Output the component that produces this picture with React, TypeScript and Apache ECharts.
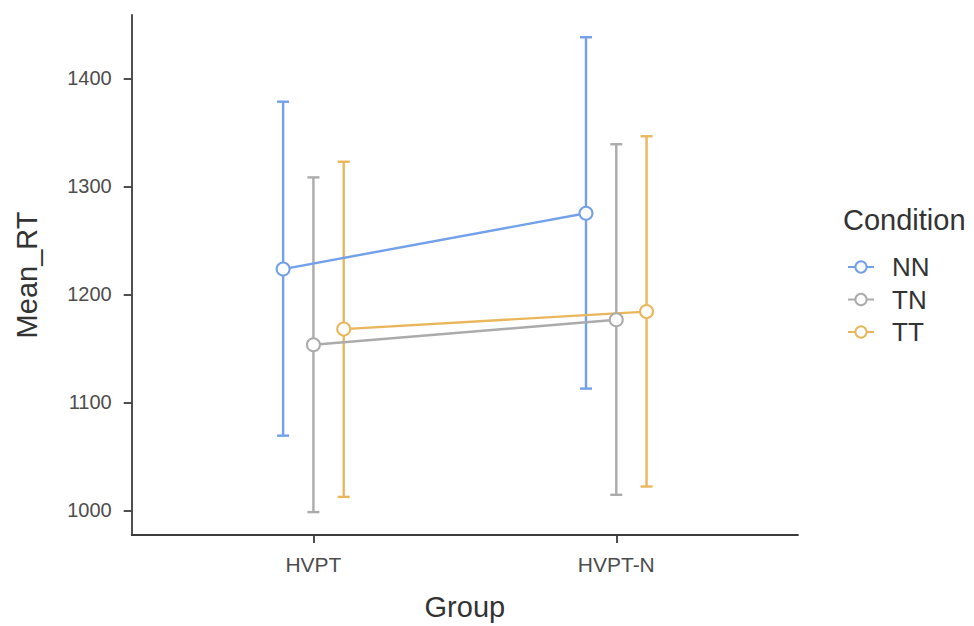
import React, { useEffect, useRef } from "react";
import * as echarts from "echarts";

const groups = ["HVPT", "HVPT-N"];
const conditions = ["NN", "TN", "TT"];
const colors = ["#72A0EA", "#ABABAB", "#EAB65C"];
const dodge = [-0.1, 0, 0.1];
const meanNN = [1223.5, 1275.2];
const meanTN = [1153.4, 1176.5];
const meanTT = [1167.9, 1184.1];
const lowNN = [1069.2, 1112.8];
const lowTN = [998.4, 1014.4];
const lowTT = [1012.5, 1022.1];
const highNN = [1378.5, 1438.2];
const highTN = [1308.4, 1339.1];
const highTT = [1322.9, 1346.5];
const yTicks = [1000, 1100, 1200, 1300, 1400];

const means = [meanNN, meanTN, meanTT];
const lows = [lowNN, lowTN, lowTT];
const highs = [highNN, highTN, highTT];

export default function App() {
  const ref = useRef<HTMLDivElement>(null);
  useEffect(() => {
    if (!ref.current) return;
    const chart = echarts.init(ref.current, null, { renderer: "svg" });
    const font = "'Liberation Sans', Arial, sans-serif";
    const series: any[] = [];
    conditions.forEach((c, ci) => {
      const errData = groups.map((g, gi) => [gi + 1 + dodge[ci], lows[ci][gi], highs[ci][gi]]);
      series.push({
        type: "custom",
        name: c + "_err",
        data: errData,
        z: 1,
        silent: true,
        renderItem: (params: any, api: any) => {
          const x = api.value(0);
          const lo = api.coord([x, api.value(1)]);
          const hi = api.coord([x, api.value(2)]);
          const hw = 6;
          const style = { stroke: colors[ci], lineWidth: 2.4, fill: "none" };
          return {
            type: "group",
            children: [
              { type: "line", shape: { x1: lo[0], y1: lo[1], x2: hi[0], y2: hi[1] }, style },
              { type: "line", shape: { x1: lo[0] - hw, y1: lo[1], x2: lo[0] + hw, y2: lo[1] }, style },
              { type: "line", shape: { x1: hi[0] - hw, y1: hi[1], x2: hi[0] + hw, y2: hi[1] }, style },
            ],
          };
        },
      });
      series.push({
        type: "line",
        name: c,
        data: groups.map((g, gi) => [gi + 1 + dodge[ci], means[ci][gi]]),
        z: 3,
        symbol: "circle",
        symbolSize: 13,
        showAllSymbol: true,
        lineStyle: { color: colors[ci], width: 2.4 },
        itemStyle: { color: "#FFFFFF", borderColor: colors[ci], borderWidth: 2 },
      });
    });
    chart.setOption({
      animation: false,
      backgroundColor: "#FFFFFF",
      grid: { left: 131.7, right: 176, top: 15, bottom: 89, containLabel: false },
      xAxis: {
        type: "value",
        min: 0.4,
        max: 2.6,
        name: "Group",
        nameLocation: "middle",
        nameGap: 57,
        nameTextStyle: { fontFamily: font, fontSize: 29, color: "#333333" },
        axisLine: { show: true, lineStyle: { color: "#3C3C3C", width: 1.8 } },
        axisTick: { show: true, length: 8, lineStyle: { color: "#3C3C3C", width: 1.8 }, customValues: [1, 2] },
        axisLabel: {
          customValues: [1, 2],
          formatter: (v: number) => groups[Math.round(v) - 1] || "",
          fontFamily: font,
          fontSize: 21,
          color: "#4D4D4D",
          margin: 19,
        },
        splitLine: { show: false },
      },
      yAxis: {
        type: "value",
        min: 977.2,
        max: 1458.8,
        name: "Mean_RT",
        nameLocation: "middle",
        nameGap: 90,
        nameRotate: 90,
        nameTextStyle: { fontFamily: font, fontSize: 29, color: "#333333" },
        axisLine: { show: true, lineStyle: { color: "#3C3C3C", width: 1.8 } },
        axisTick: { show: true, length: 8, lineStyle: { color: "#3C3C3C", width: 1.8 }, customValues: yTicks },
        axisLabel: {
          customValues: yTicks,
          formatter: (v: number) => String(v),
          fontFamily: font,
          fontSize: 20,
          color: "#4D4D4D",
          margin: 20,
        },
        splitLine: { show: false },
      },
      legend: {
        data: conditions,
        orient: "vertical",
        left: 847,
        top: 254,
        padding: 0,
        itemWidth: 26,
        itemHeight: 14,
        itemGap: 6.5,
        textStyle: { fontFamily: font, fontSize: 26, lineHeight: 24, color: "#333333", padding: [0, 0, 0, 13] },
      },
      graphic: [
        {
          type: "text",
          left: 843,
          top: 205,
          style: { text: "Condition", fontFamily: font, fontSize: 29, fill: "#333333" },
        },
      ],
      series,
    });
    return () => chart.dispose();
  }, []);
  return (
    <div
      ref={ref}
      style={{ position: "fixed", left: 0, top: 0, width: 974, height: 626 }}
    />
  );
}
